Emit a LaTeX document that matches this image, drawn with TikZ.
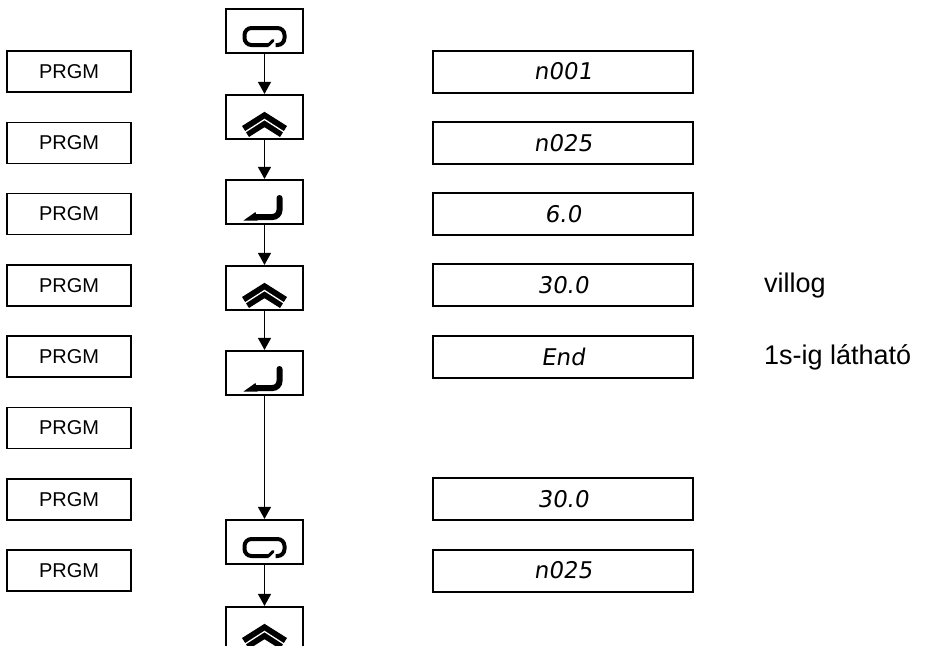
\documentclass[tikz,border=0pt]{standalone}
\usepackage{fontspec}
\setmainfont{Liberation Sans}
\newfontfamily\segfont[FakeSlant=0.15]{DejaVu Sans}
\usetikzlibrary{arrows.meta}
\tikzset{
  prgmbox/.style={draw, line width=1.5pt, minimum width=124pt, minimum height=41pt, inner sep=0pt, font=\fontsize{20}{20}\selectfont},
  dispbox/.style={draw, line width=2pt, minimum width=260pt, minimum height=42pt, inner sep=0pt, font=\segfont\fontsize{23}{23}\selectfont},
  keybox/.style={draw, line width=2.2pt, minimum width=77pt, minimum height=44pt, inner sep=0pt},
  note/.style={anchor=west, inner sep=0pt, font=\fontsize{27}{27}\selectfont},
  arr/.style={line width=1.3pt, -{Triangle[length=12pt,width=13pt]}},
  loopic/.pic={
    \draw[line width=4pt, rounded corners=7pt] (4,14) -- (-20,14) -- (-20,-3) -- (20,-3) -- (20,14) -- (11,14);
    \draw[line width=3pt, line cap=round] (4,14) -- (8.5,9.5);
  },
  chevic/.pic={
    \draw[line width=13pt, line join=miter] (-19,14.5) -- (0,2.5) -- (19,14.5);
    \draw[white, line width=1.3pt, line join=miter] (-21,16) -- (0,2.5) -- (21,16);
  },
  enteric/.pic={
    \draw[line width=6pt, line cap=round, rounded corners=7pt] (15,-4) -- (15,15) -- (-8,15);
    \fill (-21,18.5) -- (-9,10) -- (-7,18.5) -- cycle;
  }
}
\begin{document}
\begin{tikzpicture}[x=1pt,y=-1pt]
\useasboundingbox (0,0) rectangle (926,645);
% PRGM column
\foreach \i in {1,...,8} {
  \node[prgmbox] (p\i) at (69, {71.5+71.3*(\i-1)}) {PRGM};
}
% display column
\node[dispbox] (d1) at (563,71.5) {n001};
\node[dispbox] (d2) at (563,142.8) {n025};
\node[dispbox] (d3) at (563,214.1) {6.0};
\node[dispbox] (d4) at (563,285.4) {30.0};
\node[dispbox] (d5) at (563,356.7) {End};
\node[dispbox] (d6) at (563,499.3) {30.0};
\node[dispbox] (d7) at (563,570.6) {n025};
\node[note] (n1) at (764,286) {villog};
\node[note] (n2) at (764,357) {1s-ig látható};
% keys
\node[keybox] (k1) at (264.5,31) {};
\node[keybox] (k2) at (264.5,117) {};
\node[keybox] (k3) at (264.5,202) {};
\node[keybox] (k4) at (264.5,288) {};
\node[keybox] (k5) at (264.5,373) {};
\node[keybox] (k6) at (264.5,542) {};
\node[keybox] (k7) at (264.5,629) {};
\pic at (k1) {loopic};
\pic at (k2) {chevic};
\pic at (k3) {enteric};
\pic at (k4) {chevic};
\pic at (k5) {enteric};
\pic at (k6) {loopic};
\pic at (k7) {chevic};
\draw[arr] (k1.south) -- (k2.north);
\draw[arr] (k2.south) -- (k3.north);
\draw[arr] (k3.south) -- (k4.north);
\draw[arr] (k4.south) -- (k5.north);
\draw[arr] (k5.south) -- (k6.north);
\draw[arr] (k6.south) -- (k7.north);
\end{tikzpicture}
\end{document}
